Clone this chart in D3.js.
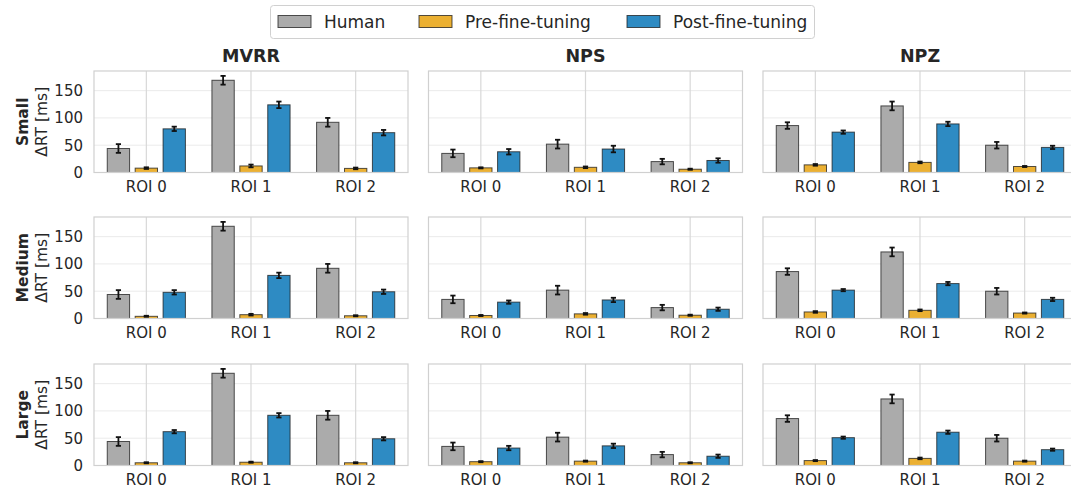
<!DOCTYPE html>
<html>
<head>
<meta charset="utf-8">
<script src="https://cdn.jsdelivr.net/npm/d3@7"></script>
<style>
  html, body { margin: 0; padding: 0; background: #fff; }
  svg { display: block; font-family: "DejaVu Sans", sans-serif; }
</style>
</head>
<body>
<svg id="chart" width="1071" height="490"></svg>
<script>
// ---- data ---------------------------------------------------------------
const categories = ["ROI 0", "ROI 1", "ROI 2"];
const groups = ["Human", "Pre-fine-tuning", "Post-fine-tuning"];
const metrics = ["MVRR", "NPS", "NPZ"];
const sizes = ["Small", "Medium", "Large"];
const yTicks = [0, 50, 100, 150];

// Human reading-time effects (same for every size), rows = metrics
const humanMean = [[44, 169, 92], [35, 52, 20], [86, 122, 50]];
const humanErr  = [[8, 8, 8], [7, 8, 5], [6, 8, 6]];

// model effects before fine-tuning, [size][metric][roi]
const preMean = [
  [[8, 12, 7.5], [8.5, 9.5, 6], [14, 18.5, 11]],
  [[4, 7, 5], [5.5, 8.5, 6], [12, 15, 10]],
  [[5, 6, 5], [7, 8, 5], [9, 13, 8]]
];
const preErr = [
  [[1.5, 2.5, 1.5], [1, 1.5, 1], [1.5, 1.5, 1]],
  [[1, 1.5, 1], [1, 1.5, 1], [1.5, 1.5, 1]],
  [[1, 1, 1], [1, 1, 1], [1, 1.5, 1]]
];

// model effects after fine-tuning, [size][metric][roi]
const postMean = [
  [[80, 124, 73], [38, 43, 22], [74, 89, 46]],
  [[48, 79, 49], [30, 34, 17], [52, 64, 35]],
  [[62, 92, 49], [32, 36, 17], [51, 61, 29]]
];
const postErr = [
  [[4, 6, 5], [5, 6, 4], [3, 4, 3]],
  [[4, 5, 4], [3, 4, 3], [2, 3, 3]],
  [[3, 4, 3], [4, 4, 3], [2, 3, 2]]
];

// ---- layout -------------------------------------------------------------
const fills = ["#ababab", "#ebb032", "#2e8bc3"];
const panelW = 314, panelH = 101.5;
const panelX = [94, 428.5, 763];
const panelY = [71, 217, 364];
const tickFont = 15;

const svg = d3.select("#chart");

const x = d3.scaleBand().domain(categories).range([0, panelW]).padding(0);
const hue = d3.scaleBand().domain(groups).range([-0.4, 0.4]).padding(0);
const y = d3.scaleLinear().domain([0, 186]).range([panelH, 0]);

const barFrac = 0.8 / 3 * 0.8;

sizes.forEach((size, r) => {
  metrics.forEach((metric, c) => {
    const g = svg.append("g").attr("transform", `translate(${panelX[c]},${panelY[r]})`);

    // horizontal grid
    g.selectAll("line.hgrid").data(yTicks).join("line")
      .attr("class", "hgrid")
      .attr("x1", 0).attr("x2", panelW)
      .attr("y1", d => y(d)).attr("y2", d => y(d))
      .attr("stroke", "#ebebeb").attr("stroke-width", 1);

    // vertical grid at category centres
    g.selectAll("line.vgrid").data(categories).join("line")
      .attr("class", "vgrid")
      .attr("x1", d => x(d) + x.bandwidth() / 2).attr("x2", d => x(d) + x.bandwidth() / 2)
      .attr("y1", 0).attr("y2", panelH)
      .attr("stroke", "#d8d8d8").attr("stroke-width", 1.2);

    const rows = [];
    categories.forEach((cat, i) => {
      rows.push({ cat, grp: groups[0], k: 0, v: humanMean[c][i], e: humanErr[c][i] });
      rows.push({ cat, grp: groups[1], k: 1, v: preMean[r][c][i], e: preErr[r][c][i] });
      rows.push({ cat, grp: groups[2], k: 2, v: postMean[r][c][i], e: postErr[r][c][i] });
    });

    const bw = x.bandwidth();
    const cx = d => x(d.cat) + bw / 2 + (hue(d.grp) + hue.bandwidth() / 2) * bw;
    const w = barFrac * bw;

    g.selectAll("rect.bar").data(rows).join("rect")
      .attr("class", "bar")
      .attr("x", d => cx(d) - w / 2)
      .attr("width", w)
      .attr("y", d => y(d.v))
      .attr("height", d => y(0) - y(d.v))
      .attr("fill", d => fills[d.k])
      .attr("stroke", "#1a1a1a").attr("stroke-opacity", 0.75)
      .attr("stroke-width", 1);

    // error bars
    const eb = g.selectAll("g.err").data(rows).join("g").attr("class", "err");
    eb.append("line")
      .attr("x1", cx).attr("x2", cx)
      .attr("y1", d => y(d.v - d.e)).attr("y2", d => y(d.v + d.e))
      .attr("stroke", "#111").attr("stroke-width", 1.8);
    [-1, 1].forEach(s => {
      eb.append("line")
        .attr("x1", d => cx(d) - 2.6).attr("x2", d => cx(d) + 2.6)
        .attr("y1", d => y(d.v + s * d.e)).attr("y2", d => y(d.v + s * d.e))
        .attr("stroke", "#111").attr("stroke-width", 1.8);
    });

    // frame
    g.append("rect")
      .attr("x", 0).attr("y", 0).attr("width", panelW).attr("height", panelH)
      .attr("fill", "none").attr("stroke", "#d0d0d0").attr("stroke-width", 1.2);

    // x axis
    const xa = g.append("g").attr("transform", `translate(0,${panelH})`)
      .call(d3.axisBottom(x).tickSize(0).tickPadding(9));
    xa.select(".domain").remove();
    xa.selectAll("text").attr("font-size", tickFont).attr("fill", "#262626")
      .attr("font-family", "DejaVu Sans");

    // y axis (first column only)
    if (c === 0) {
      const ya = g.append("g").call(d3.axisLeft(y).tickValues(yTicks).tickSize(0).tickPadding(11));
      ya.select(".domain").remove();
      ya.selectAll("text").attr("font-size", tickFont).attr("fill", "#262626")
        .attr("font-family", "DejaVu Sans");

      const lab = svg.append("text")
        .attr("transform", `translate(28,${panelY[r] + panelH / 2}) rotate(-90)`)
        .attr("text-anchor", "middle")
        .attr("fill", "#262626")
        .attr("font-size", 15.5);
      lab.append("tspan").attr("x", 0).attr("dy", 0).attr("font-weight", "bold").text(size);
      lab.append("tspan").attr("x", 0).attr("dy", "1.2em").text("ΔRT [ms]");
    }

    if (r === 0) {
      svg.append("text")
        .attr("x", panelX[c] + panelW / 2).attr("y", 62)
        .attr("text-anchor", "middle")
        .attr("font-size", 17.5).attr("font-weight", "bold").attr("fill", "#262626")
        .text(metric);
    }
  });
});

// ---- legend -------------------------------------------------------------
const leg = svg.append("g");
leg.append("rect")
  .attr("x", 270.5).attr("y", 5.5).attr("width", 544).attr("height", 33)
  .attr("rx", 3).attr("fill", "#fff").attr("stroke", "#d0d0d0").attr("stroke-width", 1);
const legX = [278, 419, 627];
groups.forEach((grp, i) => {
  leg.append("rect")
    .attr("x", legX[i]).attr("y", 15.5).attr("width", 33).attr("height", 12)
    .attr("fill", fills[i]).attr("stroke", "#1a1a1a").attr("stroke-opacity", 0.75).attr("stroke-width", 1);
  leg.append("text")
    .attr("x", legX[i] + 46).attr("y", 27.5)
    .attr("font-size", 17).attr("fill", "#262626")
    .text(grp);
});
</script>
</body>
</html>
